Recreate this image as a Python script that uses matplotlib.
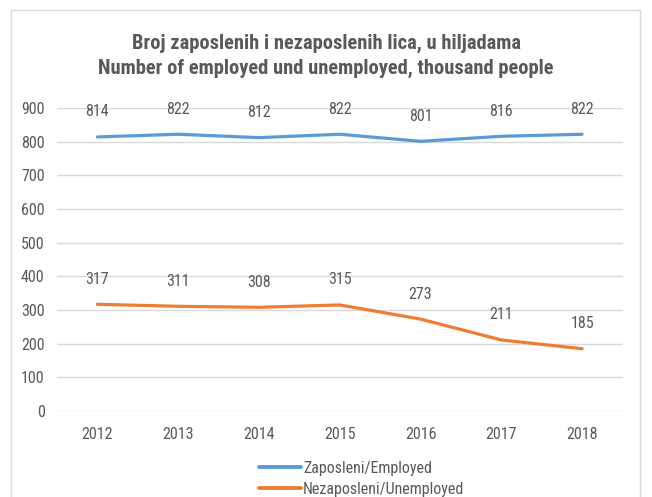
import matplotlib
matplotlib.use("Agg")
import matplotlib.pyplot as plt
from matplotlib import font_manager
from matplotlib.patches import Rectangle

years = ["2012", "2013", "2014", "2015", "2016", "2017", "2018"]
employed = [814, 822, 812, 822, 801, 816, 822]
unemployed = [317, 311, 308, 315, 273, 211, 185]
series_names = ["Zaposleni/Employed", "Nezaposleni/Unemployed"]
title_lines = ["Broj zaposlenih i nezaposlenih lica, u hiljadama",
               "Number of employed und unemployed, thousand people"]
yticks = [0, 100, 200, 300, 400, 500, 600, 700, 800, 900]

names = {f.name for f in font_manager.fontManager.ttflist}
fam = "Liberation Sans"
for cand in ["Liberation Sans Narrow", "Arial Narrow", "Roboto Condensed",
             "Archivo Narrow", "Liberation Sans"]:
    if cand in names:
        fam = cand
        break
plt.rcParams["font.family"] = [fam, "DejaVu Sans"]

txt = "#595959"
grid = "#D9D9D9"
blue = "#5B9BD5"
orange = "#ED7D31"

W, H = 652, 497
fig = plt.figure(figsize=(W / 100, H / 100), dpi=100)

# outer chart border
fig.patches.append(Rectangle((11 / W, -0.05), (640 - 11) / W, 1 - 10 / H + 0.05,
                             transform=fig.transFigure, fill=False,
                             edgecolor=grid, linewidth=1.0))

ax = fig.add_axes([57 / W, 1 - 411 / H, (622.5 - 57) / W, (411 - 108) / H])
x = list(range(len(years)))
l1, = ax.plot(x, employed, color=blue, lw=2.3, solid_capstyle="round")
l2, = ax.plot(x, unemployed, color=orange, lw=2.3, solid_capstyle="round")

for xi, v in zip(x, employed):
    ax.annotate(str(v), (xi, v), xytext=(0, 18), textcoords="offset points",
                ha="center", va="center", fontsize=11.5, color=txt)
for xi, v in zip(x, unemployed):
    ax.annotate(str(v), (xi, v), xytext=(0, 18), textcoords="offset points",
                ha="center", va="center", fontsize=11.5, color=txt)

ax.set_xlim(-0.5, len(years) - 0.5)
ax.set_ylim(0, 900)
ax.set_yticks(yticks)
ax.set_xticks(x)
ax.set_xticklabels(years)
ax.grid(axis="y", color=grid, lw=1.0)
ax.set_axisbelow(True)
for s in ax.spines.values():
    s.set_visible(False)
ax.tick_params(axis="both", length=0, labelsize=11.5, labelcolor=txt)
ax.tick_params(axis="y", pad=9)
ax.tick_params(axis="x", pad=11.5)

fig.text(0.5, 1 - 43 / H, title_lines[0], ha="center", va="center",
         fontsize=14.8, fontweight="bold", color=txt)
fig.text(0.5, 1 - 68 / H, title_lines[1], ha="center", va="center",
         fontsize=14.8, fontweight="bold", color=txt)

leg = fig.legend([l1, l2], series_names, loc="upper left",
                 bbox_to_anchor=(251 / W, 1 - 453 / H), frameon=False,
                 fontsize=11.5, handlelength=2.6, handletextpad=0.15,
                 labelspacing=0.35, borderpad=0, labelcolor=txt)
for h in leg.get_lines():
    h.set_linewidth(2.8)
    h.set_solid_capstyle("round")

fig.savefig("out.png", dpi=100)
